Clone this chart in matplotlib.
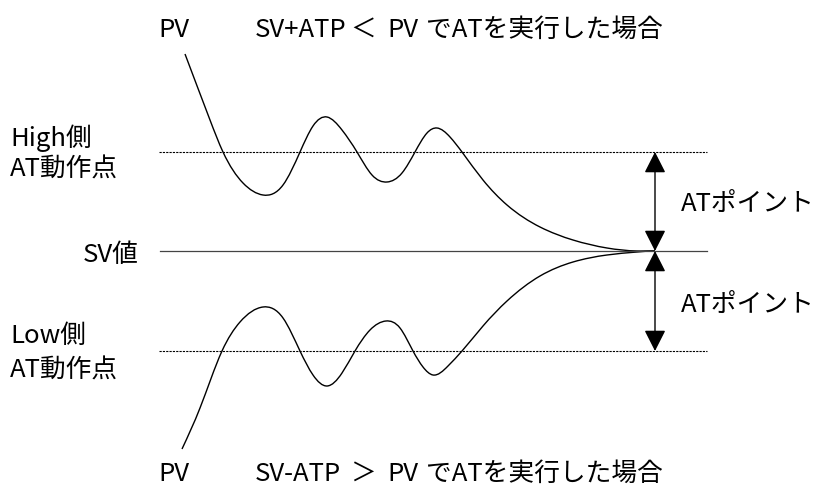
import matplotlib
matplotlib.use("Agg")
import matplotlib.pyplot as plt
from matplotlib.path import Path
from matplotlib.patches import PathPatch
import numpy as np

plt.rcParams['font.family'] = ['Noto Sans CJK JP', 'DejaVu Sans']

# ---- data (pixel-like diagram coordinates, y downward) ----
sv_level = 251
high_level = 152
low_level = 351

upper_x = [185, 210, 223, 243, 263, 283, 300, 313, 327, 342, 357, 372, 387, 402, 415, 427, 437, 450, 462, 483, 507, 540, 573, 607, 637, 655]
upper_y = [54, 120, 152, 183, 195, 185, 152, 126, 117, 130, 152, 175, 182, 173, 152, 133, 128, 137, 152, 180, 205, 227, 240, 248, 251, 251]

lower_x = [182, 200, 222, 240, 263, 283, 300, 313, 327, 342, 355, 370, 386, 400, 413, 423, 433, 448, 462, 483, 507, 540, 573, 607, 637, 655]
lower_y = [449, 408, 351, 322, 307, 318, 351, 375, 386, 373, 351, 330, 321, 328, 351, 367, 375, 366, 351, 326, 301, 276, 262, 255, 252, 251]

labels_left = ["High側", "AT動作点", "SV値", "Low側", "AT動作点"]
label_right = "ATポイント"
title_top = ["PV", "SV+ATP", "＜", "PV", "でATを実行した場合"]
title_bottom = ["PV", "SV-ATP", "＞", "PV", "でATを実行した場合"]

fig = plt.figure(figsize=(8.21, 4.87), dpi=100)
ax = fig.add_axes([0, 0, 1, 1])
ax.set_xlim(0, 821)
ax.set_ylim(487, 0)
ax.axis('off')


def spline_slopes(x, y):
    """Slopes of a C2 cubic spline: natural start, flat (clamped) end."""
    n = len(x)
    h = np.diff(x)
    delta = np.diff(y) / h
    A = np.zeros((n, n))
    b = np.zeros(n)
    A[0, 0], A[0, 1], b[0] = 2.0, 1.0, 3.0 * delta[0]
    for i in range(1, n - 1):
        A[i, i - 1] = h[i]
        A[i, i] = 2.0 * (h[i - 1] + h[i])
        A[i, i + 1] = h[i - 1]
        b[i] = 3.0 * (h[i] * delta[i - 1] + h[i - 1] * delta[i])
    A[n - 1, n - 1], b[n - 1] = 1.0, 0.0
    return np.linalg.solve(A, b)


def spline_path(xs, ys):
    x = np.asarray(xs, float)
    y = np.asarray(ys, float)
    d = spline_slopes(x, y)
    verts = [(x[0], y[0])]
    codes = [Path.MOVETO]
    for i in range(len(x) - 1):
        h = x[i + 1] - x[i]
        verts += [(x[i] + h / 3, y[i] + d[i] * h / 3),
                  (x[i + 1] - h / 3, y[i + 1] - d[i + 1] * h / 3),
                  (x[i + 1], y[i + 1])]
        codes += [Path.CURVE4] * 3
    return Path(verts, codes)


# reference lines
ax.plot([159, 707], [high_level, high_level], color='black', lw=0.8, ls=(0, (2, 1)))
ax.plot([159, 707], [low_level, low_level], color='black', lw=0.8, ls=(0, (2, 1)))
ax.plot([160, 707], [sv_level, sv_level], color='#444444', lw=0.9)

# PV curves
for xs, ys in [(upper_x, upper_y), (lower_x, lower_y)]:
    ax.add_patch(PathPatch(spline_path(xs, ys), facecolor='none', edgecolor='black', lw=1.0))

# AT point arrows
arrow_x = 655
for y0, y1 in [(high_level, sv_level), (sv_level, low_level)]:
    ax.annotate('', xy=(arrow_x, y1), xytext=(arrow_x, y0),
                arrowprops=dict(arrowstyle='<|-|>,head_length=0.65,head_width=0.33',
                                mutation_scale=20, color='black', lw=1.0,
                                shrinkA=0, shrinkB=0))

fs = 18.5
# left labels
ax.text(10, 146, labels_left[0], fontsize=fs, va='baseline', ha='left')
ax.text(10, 177, labels_left[1], fontsize=fs, va='baseline', ha='left')
ax.text(139, 262, labels_left[2], fontsize=fs, va='baseline', ha='right')
ax.text(10, 343, labels_left[3], fontsize=fs, va='baseline', ha='left')
ax.text(10, 378, labels_left[4], fontsize=fs, va='baseline', ha='left')

# right labels
ax.text(681, 211, label_right, fontsize=fs, va='baseline', ha='left')
ax.text(681, 312, label_right, fontsize=fs, va='baseline', ha='left')

# top and bottom titles
xpos = [158, 255, 350, 387, 426]
for x, t in zip(xpos, title_top):
    ax.text(x, 37, t, fontsize=fs, va='baseline', ha='left')
for x, t in zip(xpos, title_bottom):
    ax.text(x, 481, t, fontsize=fs, va='baseline', ha='left')

fig.savefig('out.png', dpi=100)
